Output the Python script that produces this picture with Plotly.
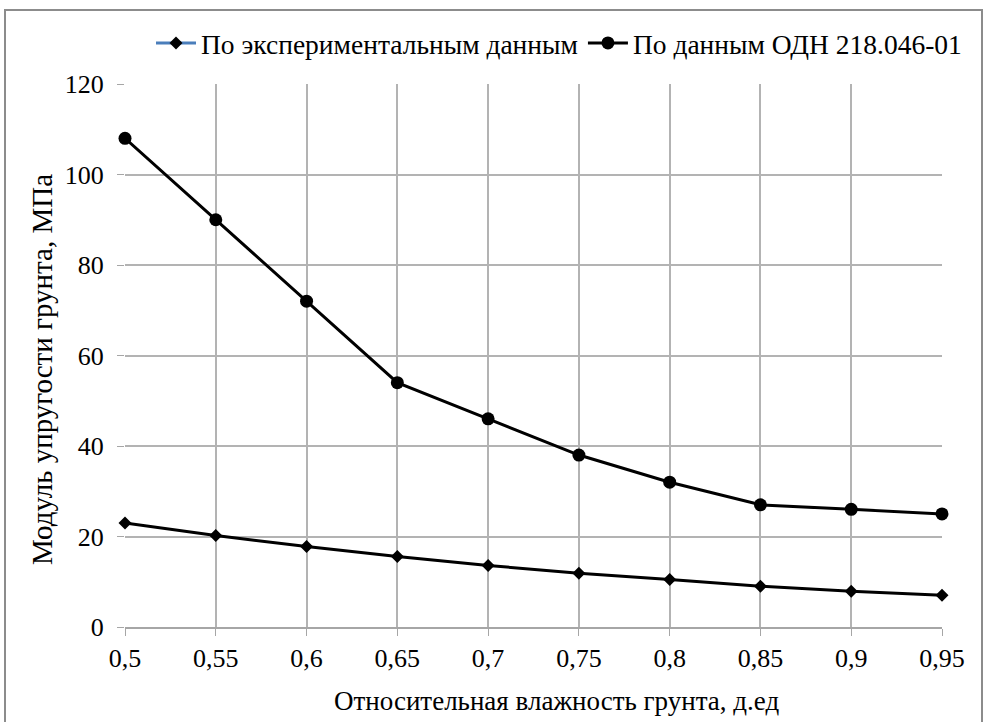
import plotly.graph_objects as go

x_vals = [0.5, 0.55, 0.6, 0.65, 0.7, 0.75, 0.8, 0.85, 0.9, 0.95]
x_labels = ["0,5", "0,55", "0,6", "0,65", "0,7", "0,75", "0,8", "0,85", "0,9", "0,95"]
exp_vals = [23, 20.2, 17.8, 15.6, 13.6, 11.9, 10.5, 9.0, 7.9, 7.0]
odn_vals = [108, 90, 72, 54, 46, 38, 32, 27, 26, 25]
y_ticks = [0, 20, 40, 60, 80, 100, 120]

name_exp = "По экспериментальным данным"
name_odn = "По данным ОДН 218.046-01"
x_title = "Относительная влажность грунта, д.ед"
y_title = "Модуль упругости грунта, МПа"

FONT = "Liberation Serif"
FS = 26

fig = go.Figure()
# legend-only entry (blue line, black diamond as in reference legend)
fig.add_trace(go.Scatter(x=[None], y=[None], mode="lines+markers", name=name_exp,
                         line=dict(color="#4a7ebb", width=3),
                         marker=dict(symbol="diamond", size=10, color="black")))
fig.add_trace(go.Scatter(x=x_vals, y=exp_vals, mode="lines+markers", showlegend=False,
                         line=dict(color="black", width=3),
                         marker=dict(symbol="diamond", size=10, color="black"),
                         cliponaxis=False))
fig.add_trace(go.Scatter(x=x_vals, y=odn_vals, mode="lines+markers", name=name_odn,
                         line=dict(color="black", width=3),
                         marker=dict(symbol="circle", size=13, color="black"),
                         cliponaxis=False))

W, H = 985, 722
L, R, T, B = 125, 43, 84, 95
pw, ph = W - L - R, H - T - B

def px(xp):
    return (xp - L) / pw

def py(yp):
    return (H - B - yp) / ph

fig.update_layout(
    width=W, height=H,
    margin=dict(l=L, r=R, t=T, b=B, autoexpand=False),
    paper_bgcolor="white", plot_bgcolor="white",
    font=dict(family=FONT, size=FS, color="black"),
    showlegend=True,
    legend=dict(orientation="h", x=px(559), y=py(43), xanchor="center", yanchor="middle",
                font=dict(family=FONT, size=27.5, color="black"),
                itemwidth=40, tracegroupgap=0, bgcolor="rgba(0,0,0,0)"),
    xaxis=dict(range=[0.5, 0.95], tickvals=x_vals, ticktext=x_labels,
               showgrid=True, gridcolor="#b3b3b3", gridwidth=1.5,
               showline=True, linecolor="#a6a6a6", linewidth=1.5,
               ticks="outside", ticklen=7, tickcolor="#a6a6a6",
               zeroline=False, tickfont=dict(family=FONT, size=FS)),
    yaxis=dict(range=[0, 120], tickvals=y_ticks,
               showgrid=True, gridcolor="#b3b3b3", gridwidth=1.5,
               showline=False, zeroline=False, tickfont=dict(family=FONT, size=FS),
               ticks="outside", ticklen=7, tickcolor="#a6a6a6", ticklabelstandoff=8),
    annotations=[
        dict(text=x_title, xref="paper", yref="paper", x=px(556), y=py(701),
             xanchor="center", yanchor="middle", showarrow=False,
             font=dict(family=FONT, size=27)),
        dict(text=y_title, xref="paper", yref="paper", x=px(42), y=py(370),
             xanchor="center", yanchor="middle", showarrow=False, textangle=-90,
             font=dict(family=FONT, size=29)),
    ],
    shapes=[dict(type="rect", xref="paper", yref="paper",
                 x0=px(5), x1=px(982), y0=py(740), y1=py(10),
                 line=dict(color="#8c8c8c", width=2), layer="below")],
)

fig.write_html("out.html", config={"displayModeBar": False},
               post_script="document.body.style.margin='0';")
